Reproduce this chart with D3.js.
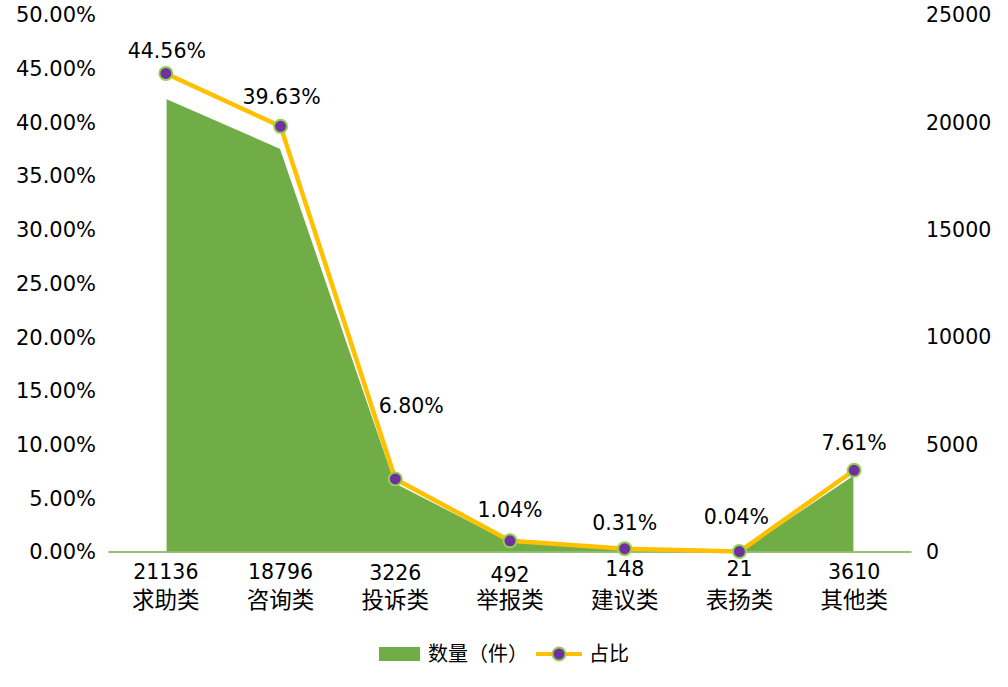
<!DOCTYPE html>
<html><head><meta charset="utf-8">
<script src="https://cdn.jsdelivr.net/npm/d3@7"></script>
<style>body{margin:0;background:#fff}svg{font-family:"DejaVu Sans","Noto Sans CJK SC",sans-serif}</style>
</head><body><svg id="c" width="1008" height="687"></svg>
<script>
const categories = ["求助类","咨询类","投诉类","举报类","建议类","表扬类","其他类"];
const counts = [21136,18796,3226,492,148,21,3610];
const shares = [44.56,39.63,6.80,1.04,0.31,0.04,7.61];
const leftTicks = [0,5,10,15,20,25,30,35,40,45,50];
const rightTicks = [0,5000,10000,15000,20000,25000];
const seriesNames = ["数量（件）","占比"];
// label placement (layout, px)
const pctLabelDy = [-23,-30,-73,-31,-26,-35,-27];
const pctLabelDx = [1,1,16,0,0,-3,0];
const cntLabelDy = [0,0,1,3,-3,-3,0];

const svg = d3.select("#c");
const L=108.5, R=911.5, T=15, B=552;
const x = d3.scaleBand().domain(categories).range([L,R]);
const cx = d => x(d)+x.bandwidth()/2;
const yL = d3.scaleLinear().domain([0,50]).range([B,T]);
const yR = d3.scaleLinear().domain([0,25000]).range([B,T]);

// area
const area = d3.area().x((d,i)=>cx(categories[i])).y0(B).y1(d=>yR(d));
svg.append("path").datum(counts).attr("d",area).attr("fill","#70AD47").attr("stroke","#fff").attr("stroke-width",1.5);

// baseline
svg.append("line").attr("x1",L).attr("x2",R).attr("y1",B).attr("y2",B).attr("stroke","#70AD47").attr("stroke-width",1.5);

// left axis labels
svg.append("g").selectAll("text").data(leftTicks).join("text")
  .attr("x",96).attr("y",d=>yL(d)).attr("dy","0.35em").attr("text-anchor","end")
  .attr("font-size",21).attr("fill","#000").text(d=>d.toFixed(2)+"%");
// right axis labels
svg.append("g").selectAll("text").data(rightTicks).join("text")
  .attr("x",926).attr("y",d=>yR(d)).attr("dy","0.35em").attr("text-anchor","start")
  .attr("font-size",20.5).attr("fill","#000").text(d=>d);

// count labels & category labels
svg.append("g").selectAll("text").data(counts).join("text")
  .attr("x",(d,i)=>cx(categories[i])).attr("y",(d,i)=>572+cntLabelDy[i]).attr("dy","0.35em")
  .attr("text-anchor","middle").attr("font-size",20.5).text(d=>d);
svg.append("g").selectAll("text").data(categories).join("text")
  .attr("x",d=>cx(d)).attr("y",600).attr("dy","0.35em")
  .attr("text-anchor","middle").attr("font-size",22.5).text(d=>d);

// line
const line = d3.line().x((d,i)=>cx(categories[i])).y(d=>yL(d));
svg.append("path").datum(shares).attr("d",line).attr("fill","none").attr("stroke","#FFC000").attr("stroke-width",4.5).attr("stroke-linejoin","round");
svg.append("g").selectAll("circle").data(shares).join("circle")
  .attr("cx",(d,i)=>cx(categories[i])).attr("cy",d=>yL(d)).attr("r",6.5)
  .attr("fill","#7030A0").attr("stroke","#92D050").attr("stroke-width",2);
svg.append("g").selectAll("text").data(shares).join("text")
  .attr("x",(d,i)=>cx(categories[i])+pctLabelDx[i]).attr("y",(d,i)=>yL(d)+pctLabelDy[i]).attr("dy","0.35em")
  .attr("text-anchor","middle").attr("font-size",20.5).text(d=>d.toFixed(2)+"%");

// legend
const lg = svg.append("g");
lg.append("rect").attr("x",379).attr("y",647).attr("width",41).attr("height",14).attr("fill","#70AD47");
lg.append("text").attr("x",428).attr("y",654).attr("dy","0.35em").attr("font-size",20).text(seriesNames[0]);
lg.append("line").attr("x1",536).attr("x2",582).attr("y1",654).attr("y2",654).attr("stroke","#FFC000").attr("stroke-width",4);
lg.append("circle").attr("cx",559).attr("cy",654).attr("r",6.5).attr("fill","#7030A0").attr("stroke","#92D050").attr("stroke-width",2);
lg.append("text").attr("x",589).attr("y",654).attr("dy","0.35em").attr("font-size",20).text(seriesNames[1]);
</script></body></html>
